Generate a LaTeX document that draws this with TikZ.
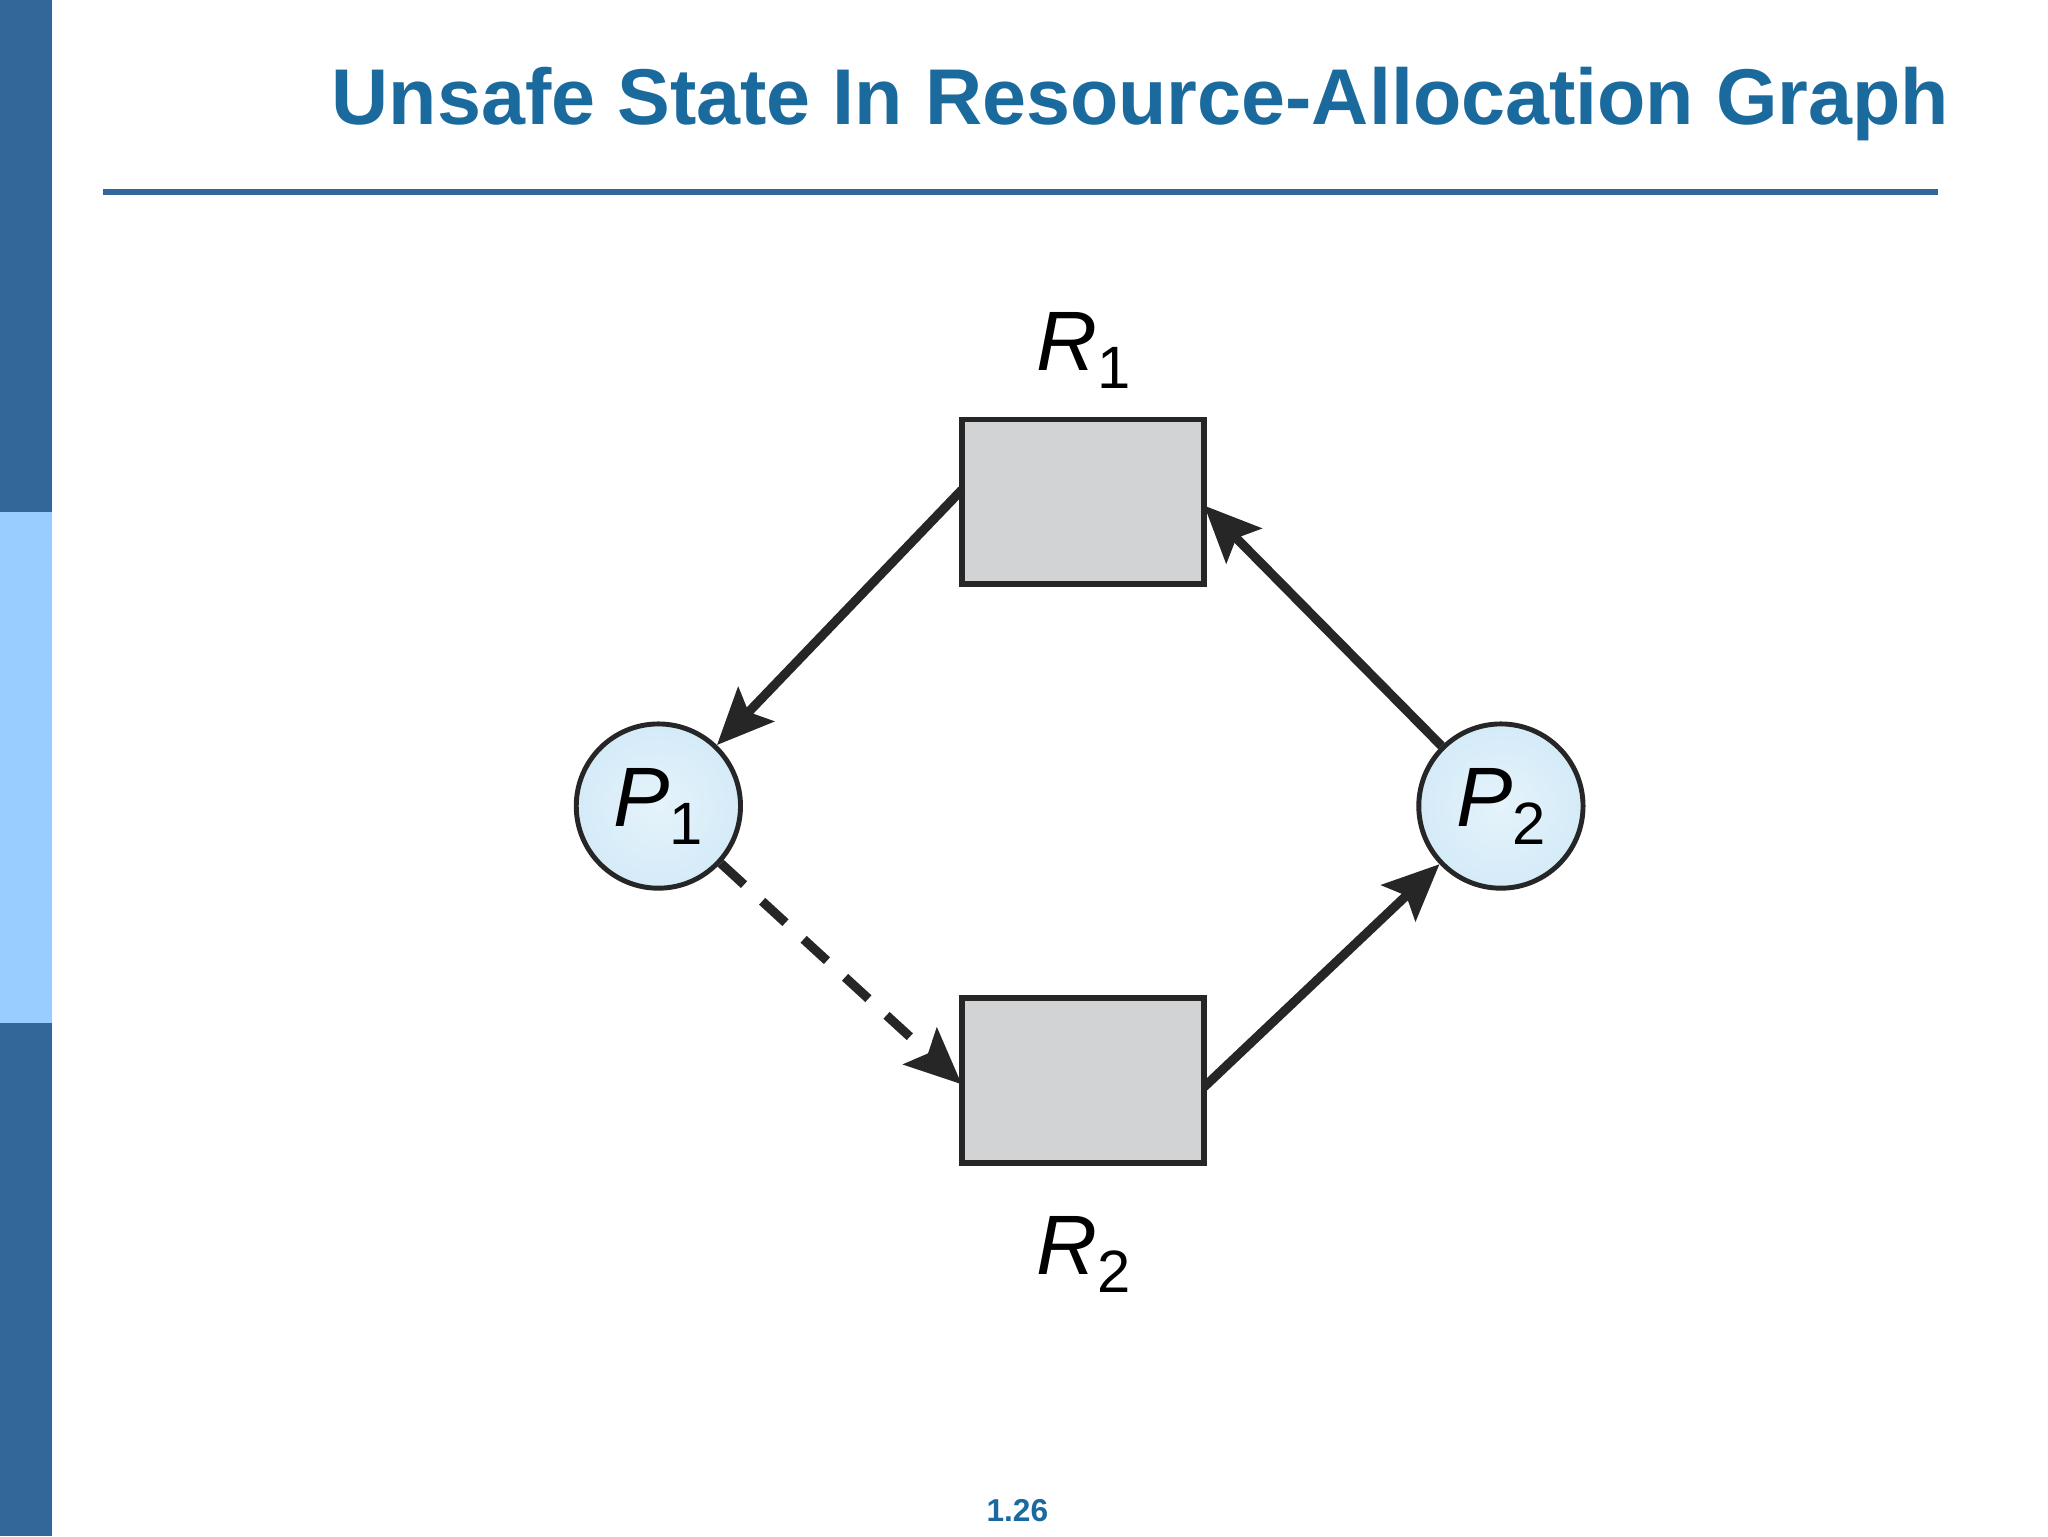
\documentclass[tikz,border=0pt]{standalone}
\usepackage{fontspec}
\setmainfont{Liberation Sans}
\usetikzlibrary{arrows.meta}
\definecolor{darkbar}{HTML}{336699}
\definecolor{lightbar}{HTML}{99CCFF}
\definecolor{titleblue}{HTML}{1A6A9E}
\definecolor{boxgray}{HTML}{D1D3D4}
\definecolor{procblue}{HTML}{D4EBF8}
\newcommand{\vsub}[2]{\textit{#1}\raisebox{-0.4ex}{\fontsize{17}{17}\selectfont\upshape #2}}
\tikzset{
 res/.style={draw=black!85,line width=1.6pt,fill=boxgray,minimum width=183*0.013247cm,minimum height=126*0.013061cm,inner sep=0},
 proc/.style={circle,draw=black!85,line width=1.4pt,inner color=procblue!60,outer color=procblue,minimum size=124*0.013247cm,inner sep=0,font=\fontsize{24}{24}\selectfont},
 lab/.style={font=\fontsize{24}{24}\selectfont},
 edge/.style={line width=2.6pt,draw=black!85,-{Stealth[length=16pt,width=14pt,inset=3pt]}},
}
\begin{document}
\begin{tikzpicture}[x=0.013247cm,y=-0.013061cm]
\fill[white] (0,0) rectangle (1546,1176);
\useasboundingbox (0,0) rectangle (1546,1176);
\fill[darkbar] (0,0) rectangle (39,392);
\fill[lightbar] (0,392) rectangle (39,783);
\fill[darkbar] (0,783) rectangle (39,1176);
\node[font=\bfseries\fontsize{22.5}{24}\selectfont,text=titleblue] (title) at (861,80) {Unsafe State In Resource-Allocation Graph};
\draw[darkbar,line width=1.5pt] (78,147) -- (1463,147);
\node[res] (r1) at (817.5,384) {};
\node[res] (r2) at (817.5,827) {};
\node[proc] (p1) at (497,617) {\vsub{P}{1}};
\node[proc] (p2) at (1133,617) {\vsub{P}{2}};
\node[lab] (l1) at (818,268) {\vsub{R}{1}};
\node[lab] (l2) at (818,960) {\vsub{R}{2}};
\coordinate (a1) at (726,375);
\coordinate (a2) at (909,387);
\coordinate (a3) at (909,832);
\coordinate (a4) at (726,830);
\draw[edge] (a1) -- (p1);
\draw[edge] (p2) -- (a2);
\draw[edge] (a3) -- (p2);
\draw[edge,dashed,dash pattern=on 9pt off 7pt] (p1) -- (a4);
\node[font=\bfseries\fontsize{9}{9}\selectfont,text=titleblue] (pg) at (768,1156) {1.26};
\end{tikzpicture}
\end{document}
